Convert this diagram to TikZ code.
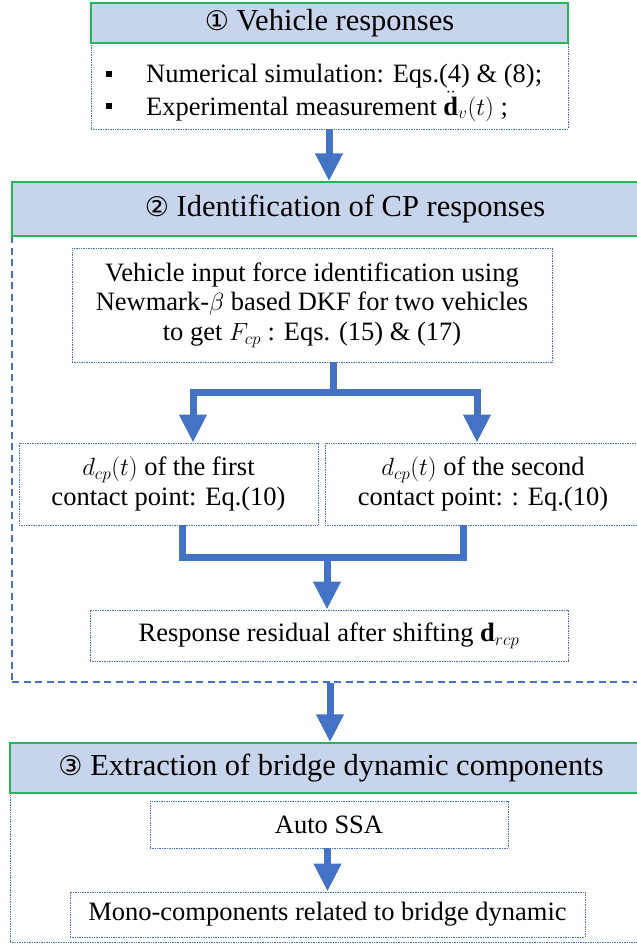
\documentclass[tikz,border=0pt]{standalone}
\usepackage{fontspec}
\setmainfont{Liberation Serif}
\newfontfamily\circfont{DejaVu Sans}
\usetikzlibrary{arrows.meta,calc}
\definecolor{ablue}{RGB}{68,114,196}
\definecolor{hfill}{RGB}{199,212,236}
\definecolor{hgreen}{RGB}{40,180,90}
\newcommand{\bodyfont}{\fontsize{26.5}{29.5}\selectfont}
\newcommand{\headfont}{\fontsize{30.5}{34}\selectfont}
\newcommand{\circnum}[1]{{\circfont\fontsize{27}{30}\selectfont #1}}
\begin{document}
\begin{tikzpicture}[x=1pt,y=-1pt,
  dotbox/.style={draw=ablue, line width=0.9pt, dash pattern=on 1pt off 0.7pt, fill=white, inner sep=0pt, font=\bodyfont, align=center},
  dashframe/.style={draw=ablue, line width=1.5pt, dash pattern=on 7pt off 4.5pt, inner sep=0pt},
  header/.style={draw=hgreen, line width=1.4pt, fill=hfill, inner sep=0pt, font=\headfont},
  bodytext/.style={font=\bodyfont, inner sep=0pt, align=center},
  bulletsq/.style={fill=black, minimum size=6pt, inner sep=0pt},
  flow/.style={draw=ablue, line width=7pt, -{Triangle[width=26pt,length=28pt]}},
  flowtwo/.style={draw=ablue, line width=7pt, line join=miter, {Triangle[width=26pt,length=28pt]}-{Triangle[width=26pt,length=28pt]}},
  pipe/.style={draw=ablue, line width=7pt, line join=miter},
]
\useasboundingbox (0,0) rectangle (637,945);

% ---------- block 1 ----------
\node[dotbox, minimum width=477pt, minimum height=126pt] (frame1) at (329.5,66) {};
\node[header, minimum width=477pt, minimum height=40pt] (hdr1) at (329.5,23) {\circnum{①} Vehicle responses};
\node[bulletsq] (bu1) at (109,74) {};
\node[bulletsq] (bu2) at (109,106) {};
\node[bodytext, anchor=base west] (t1) at (146,82) {Numerical simulation: Eqs.(4) \& (8);};
\node[bodytext, anchor=base west] (t2) at (146,115) {Experimental measurement $\smash{\ddot{\mathbf{d}}}_v(t)$ ;};

% ---------- block 2 ----------
\node[dashframe, minimum width=666pt, minimum height=500pt] (frame2) at (345,432) {};
\node[header, minimum width=666pt, minimum height=54pt] (hdr2) at (345,209) {\circnum{②} Identification of CP responses};
\node[dotbox, minimum width=480pt, minimum height=114pt] (force) at (312,305)
  {Vehicle input force identification using\\ Newmark-$\beta$ based DKF for two vehicles\\ to get $F_{cp}$ : Eqs. (15) \& (17)};
\node[dotbox, minimum width=299pt, minimum height=82pt] (dleft) at (168.5,484)
  {$d_{cp}(t)$ of the first\\ contact point: Eq.(10)};
\node[dotbox, minimum width=316pt, minimum height=82pt] (dright) at (483,484)
  {$d_{cp}(t)$ of the second\\ contact point: : Eq.(10)};
\node[dotbox, minimum width=478pt, minimum height=51pt] (resid) at (329,635.5)
  {Response residual after shifting $\mathbf{d}_{rcp}$};

% ---------- block 3 ----------
\node[dotbox, minimum width=642pt, minimum height=199pt] (frame3) at (331,842.5) {};
\node[header, minimum width=642pt, minimum height=50pt] (hdr3) at (331,768) {\circnum{③} Extraction of bridge dynamic components};
\node[dotbox, minimum width=358pt, minimum height=47pt] (auto) at (329,824.5) {Auto SSA};
\node[dotbox, minimum width=515pt, minimum height=45pt] (mono) at (327.5,914.5) {Mono-components related to bridge dynamic};

% ---------- junction coordinates ----------
\coordinate (j1) at (333,392);
\coordinate (bl) at (193,392);
\coordinate (br) at (477,392);
\coordinate (ml) at (182,557);
\coordinate (mr) at (463,557);
\coordinate (mc) at (327,557);
\coordinate (a1) at (329,129);
\coordinate (a2) at (330,683);

% ---------- connectors ----------
\draw[flow] (frame1.south -| a1) -- (hdr2.north -| a1);
\draw[pipe] (force.south -| j1) -- ([yshift=-3.5pt]j1);
\draw[flowtwo] (bl |- dleft.north) -- (bl) -- (br) -- (br |- dright.north);
\draw[pipe] (dleft.south -| ml) -- (ml) -- (mr) -- (dright.south -| mr);
\draw[flow] ([yshift=-3.5pt]mc) -- (resid.north -| mc);
\draw[flow] (frame2.south -| a2) -- (hdr3.north -| a2);
\draw[flow] (auto.south -| mono.north) -- (mono.north);
\end{tikzpicture}
\end{document}
